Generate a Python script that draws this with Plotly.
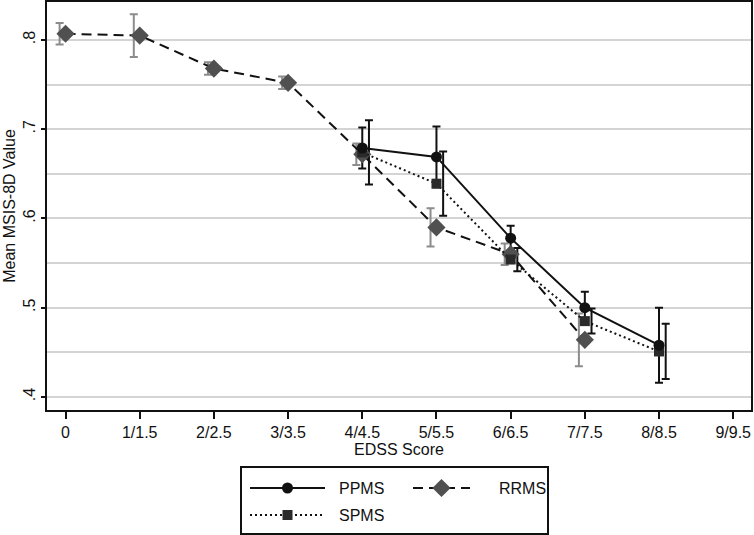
import plotly.graph_objects as go

# ---- data ----
edss_labels = ["0", "1/1.5", "2/2.5", "3/3.5", "4/4.5", "5/5.5", "6/6.5", "7/7.5", "8/8.5", "9/9.5"]
y_ticks = [0.4, 0.5, 0.6, 0.7, 0.8]
y_tick_labels = [".4", ".5", ".6", ".7", ".8"]

rrms_x = [0, 1, 2, 3, 4, 5, 6, 7]
rrms_mean = [0.807, 0.805, 0.768, 0.752, 0.672, 0.590, 0.560, 0.464]
rrms_ci = [0.012, 0.024, 0.007, 0.007, 0.012, 0.0215, 0.012, 0.0295]

ppms_x = [4, 5, 6, 7, 8]
ppms_mean = [0.679, 0.669, 0.578, 0.500, 0.458]
ppms_ci = [0.023, 0.034, 0.014, 0.018, 0.042]

spms_x = [4, 5, 6, 7, 8]
spms_mean = [0.674, 0.639, 0.554, 0.485, 0.451]
spms_ci = [0.036, 0.036, 0.013, 0.014, 0.031]

# ---- styles ----
FONT = "Liberation Sans, Arial, sans-serif"
FS = 16
RRMS_MARK = "#505050"
RRMS_BAR = "#8c8c8c"
DARK = "#111111"
SQ = "#2a2a2a"
DASH = "10px,6px"
DOT = "2px,3px"

fig = go.Figure()

def errbars(xs, ys, ci, off, color):
    fig.add_trace(go.Scatter(
        x=[x + off for x in xs], y=ys, mode="markers",
        marker=dict(opacity=0, size=2, color=color),
        error_y=dict(type="data", array=ci, visible=True, color=color, thickness=2, width=4),
        showlegend=False, hoverinfo="skip"))

errbars(rrms_x, rrms_mean, rrms_ci, -0.08, RRMS_BAR)
errbars(ppms_x, ppms_mean, ppms_ci, 0.0, DARK)
errbars(spms_x, spms_mean, spms_ci, 0.09, DARK)

fig.add_trace(go.Scatter(x=rrms_x, y=rrms_mean, mode="lines+markers", name="RRMS",
                         line=dict(color=DARK, width=2, dash=DASH),
                         marker=dict(symbol="diamond", size=14, color=RRMS_MARK)))
fig.add_trace(go.Scatter(x=spms_x, y=spms_mean, mode="lines+markers", name="SPMS",
                         line=dict(color=DARK, width=2, dash=DOT),
                         marker=dict(symbol="square", size=10, color=SQ)))
fig.add_trace(go.Scatter(x=ppms_x, y=ppms_mean, mode="lines+markers", name="PPMS",
                         line=dict(color=DARK, width=2),
                         marker=dict(symbol="circle", size=11, color=DARK)))

# ---- manual legend in its own small axes (box-local pixel units) ----
leg = [
    ("PPMS", 8, 83, 95, 45, "solid", "circle", 11, DARK),
    ("RRMS", 171, 228, 255, 45, DASH, "diamond", 14, RRMS_MARK),
    ("SPMS", 8, 83, 95, 18, DOT, "square", 10, SQ),
]
for name, x0, x1, xt, yy, dash, sym, sz, col in leg:
    fig.add_trace(go.Scatter(x=[x0, x1], y=[yy, yy], mode="lines", xaxis="x2", yaxis="y2",
                             line=dict(color=DARK, width=2, dash=dash),
                             showlegend=False, hoverinfo="skip"))
    fig.add_trace(go.Scatter(x=[(x0 + x1) / 2], y=[yy], mode="markers", xaxis="x2", yaxis="y2",
                             marker=dict(symbol=sym, size=sz, color=col),
                             showlegend=False, hoverinfo="skip"))
    fig.add_annotation(x=xt, y=yy, xref="x2", yref="y2", text=name, showarrow=False,
                       xanchor="left", yanchor="middle",
                       font=dict(family=FONT, size=FS, color="#111111"))

W, H = 754, 535
ml, mr, mt, mb = 47, 3, 2, 2
plot_h = H - mt - mb
plot_w = W - ml - mr
main_bottom = 410
leg_left, leg_right, leg_top, leg_bottom = 242, 547, 468, 533

fig.update_layout(
    width=W, height=H,
    margin=dict(l=ml, r=mr, t=mt, b=mb),
    paper_bgcolor="white", plot_bgcolor="white",
    showlegend=False,
    font=dict(family=FONT, size=FS, color="#111111"),
    xaxis=dict(
        domain=[0, 1], range=[-0.25, 9.24],
        tickvals=list(range(len(edss_labels))), ticktext=edss_labels,
        ticks="outside", ticklen=7, tickwidth=1.5, tickcolor="#111111",
        showline=True, linecolor="#111111", linewidth=1.5, mirror=True,
        showgrid=False, zeroline=False,
        tickfont=dict(family=FONT, size=FS),
        title=dict(text="EDSS Score", font=dict(family=FONT, size=FS), standoff=0),
        automargin=False, anchor="y",
    ),
    yaxis=dict(
        domain=[(plot_h - (main_bottom - mt)) / plot_h, 1],
        range=[0.3854, 0.8426],
        tickvals=y_ticks, ticktext=y_tick_labels, tickangle=-90,
        ticks="outside", ticklen=4, tickwidth=1.5, tickcolor="#111111",
        showline=True, linecolor="#111111", linewidth=1.5, mirror=True,
        showgrid=True, gridcolor="#d4d4d4", gridwidth=1.5,
        minor=dict(dtick=0.05, tick0=0.4, showgrid=True, gridcolor="#d4d4d4", gridwidth=1.5, ticks=""),
        zeroline=False,
        tickfont=dict(family=FONT, size=FS),
        title=dict(text="Mean MSIS-8D Value", font=dict(family=FONT, size=FS), standoff=1),
        automargin=False, anchor="x",
    ),
    xaxis2=dict(
        domain=[(leg_left - ml) / plot_w, (leg_right - ml) / plot_w],
        range=[0, leg_right - leg_left], showticklabels=False, ticks="",
        showgrid=False, zeroline=False, fixedrange=True,
        showline=True, linecolor="#111111", linewidth=1.5, mirror=True, anchor="y2",
    ),
    yaxis2=dict(
        domain=[(H - mb - leg_bottom) / plot_h, (H - mb - leg_top) / plot_h],
        range=[0, leg_bottom - leg_top], showticklabels=False, ticks="",
        showgrid=False, zeroline=False, fixedrange=True,
        showline=True, linecolor="#111111", linewidth=1.5, mirror=True, anchor="x2",
    ),
)

fig.write_html("out.html", config={"displayModeBar": False},
               post_script="document.body.style.margin='0px';document.body.style.overflow='hidden';")
